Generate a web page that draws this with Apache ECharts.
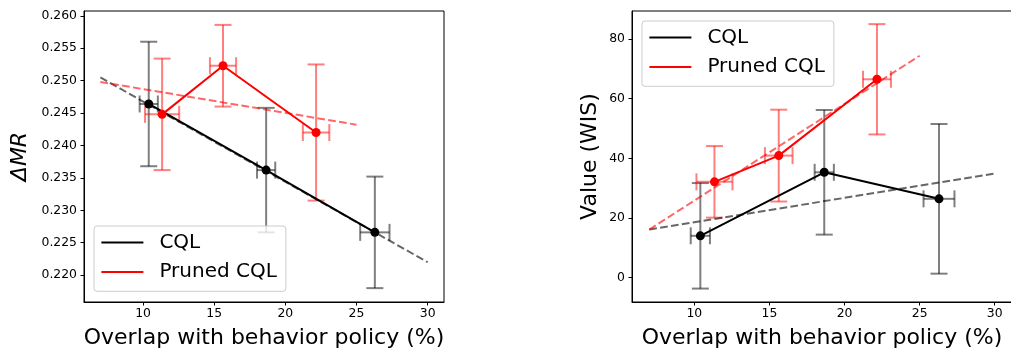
<!DOCTYPE html>
<html>
<head>
<meta charset="utf-8">
<script src="https://cdn.jsdelivr.net/npm/echarts@6/dist/echarts.min.js"></script>
<style>
html,body{margin:0;padding:0;background:#fff;}
#chart{width:1011px;height:350px;}
</style>
</head>
<body>
<div id="chart"></div>
<script>
// ---- data ----
const seriesNames = ['CQL', 'Pruned CQL'];
const cqlX = [10.40, 18.65, 26.29];
const cqlXErr = [0.64, 0.64, 1.03];
const prunedX = [11.34, 15.62, 22.16];
const prunedXErr = [1.2, 0.92, 0.93];

const mrCql = [0.2464, 0.2362, 0.2266];
const mrCqlErr = [0.0096, 0.0096, 0.0086];
const mrPruned = [0.2448, 0.2523, 0.2420];
const mrPrunedErr = [0.0086, 0.0063, 0.0105];

const wisCql = [14.0, 35.3, 26.4];
const wisCqlErr = [17.7, 20.9, 25.1];
const wisPruned = [32.1, 40.9, 66.5];
const wisPrunedErr = [12.0, 15.4, 18.5];

const cqlFitX = [7, 30];
const prunedFitX = [7, 25];
const mrCqlFit = [0.2505, 0.2220];
const mrPrunedFit = [0.2498, 0.2432];
const wisCqlFit = [16.1, 34.9];
const wisPrunedFit = [16.1, 74.4];

const xTicks = [10, 15, 20, 25, 30];
const mrTicks = [0.220, 0.225, 0.230, 0.235, 0.240, 0.245, 0.250, 0.255, 0.260];
const wisTicks = [0, 20, 40, 60, 80];

const xLabel = 'Overlap with behavior policy (%)';
const mrLabel = 'ΔMR';
const wisLabel = 'Value (WIS)';

// ---- helpers ----
const FONT = 'DejaVu Sans';
const zip = (a, b) => a.map((v, i) => [v, b[i]]);
const errData = (xs, xe, ys, ye) => xs.map((x, i) => [x, ys[i], xe[i], ye[i]]);
const CAP = 8.5;

function errRender(color) {
  return function (params, api) {
    const x = api.value(0), y = api.value(1), xe = api.value(2), ye = api.value(3);
    const t = api.coord([x, y + ye]);
    const b = api.coord([x, y - ye]);
    const l = api.coord([x - xe, y]);
    const r = api.coord([x + xe, y]);
    const st = { stroke: color, lineWidth: 2, fill: null };
    const ln = (x1, y1, x2, y2) => ({ type: 'line', shape: { x1, y1, x2, y2 }, style: st });
    return {
      type: 'group',
      children: [
        ln(t[0], t[1], b[0], b[1]),
        ln(t[0] - CAP, t[1], t[0] + CAP, t[1]),
        ln(b[0] - CAP, b[1], b[0] + CAP, b[1]),
        ln(l[0], l[1], r[0], r[1]),
        ln(l[0], l[1] - CAP, l[0], l[1] + CAP),
        ln(r[0], r[1] - CAP, r[0], r[1] + CAP)
      ]
    };
  };
}

function xAxisCfg(gi) {
  return {
    type: 'value', gridIndex: gi, min: 5.85, max: 31.15,
    name: xLabel, nameLocation: 'middle', nameGap: 25,
    nameTextStyle: { fontFamily: FONT, fontSize: 22, color: '#000' },
    axisLine: { show: true, onZero: false, lineStyle: { color: '#000', width: 1 } },
    axisTick: { show: true, inside: false, length: 3.5, lineStyle: { color: '#000', width: 1 }, customValues: xTicks },
    axisLabel: { fontFamily: FONT, fontSize: 12.4, color: '#000', margin: 6, customValues: xTicks },
    splitLine: { show: false }
  };
}

function yAxisCfg(gi, min, max, ticks, name, gap, fmt, italic) {
  return {
    type: 'value', gridIndex: gi, min: min, max: max,
    name: name, nameLocation: 'middle', nameGap: gap, nameRotate: 90,
    nameTextStyle: { fontFamily: FONT, fontSize: 22, color: '#000', fontStyle: italic ? 'italic' : 'normal' },
    axisLine: { show: true, onZero: false, lineStyle: { color: '#000', width: 1 } },
    axisTick: { show: true, inside: false, length: 3.5, lineStyle: { color: '#000', width: 1 }, customValues: ticks },
    axisLabel: { fontFamily: FONT, fontSize: 12.4, color: '#000', margin: 7, customValues: ticks, formatter: fmt },
    splitLine: { show: false }
  };
}

function legendCfg(left, top) {
  return {
    left: left, top: top, orient: 'vertical',
    data: seriesNames,
    icon: 'rect', itemWidth: 42, itemHeight: 2, itemGap: 7.4,
    padding: [5.6, 9, 8.3, 7.4],
    backgroundColor: 'rgba(255,255,255,0.8)',
    borderColor: '#cccccc', borderWidth: 1, borderRadius: 3,
    textStyle: { fontFamily: FONT, fontSize: 20, color: '#000', lineHeight: 22, padding: [0, 0, 0, 11] },
    selectedMode: false
  };
}

function panelSeries(gi, cqlY, cqlE, prY, prE, cqlFit, prFit) {
  return [
    { type: 'custom', xAxisIndex: gi, yAxisIndex: gi, z: 1, renderItem: errRender('rgba(0,0,0,0.5)'),
      data: errData(cqlX, cqlXErr, cqlY, cqlE), encode: { x: 0, y: 1 }, silent: true },
    { type: 'custom', xAxisIndex: gi, yAxisIndex: gi, z: 1, renderItem: errRender('rgba(255,0,0,0.5)'),
      data: errData(prunedX, prunedXErr, prY, prE), encode: { x: 0, y: 1 }, silent: true },
    { type: 'line', xAxisIndex: gi, yAxisIndex: gi, z: 2, showSymbol: false, silent: true,
      data: zip(cqlFitX, cqlFit), lineStyle: { color: 'rgba(0,0,0,0.6)', width: 2, type: [7.7, 3.3] } },
    { type: 'line', xAxisIndex: gi, yAxisIndex: gi, z: 2, showSymbol: false, silent: true,
      data: zip(prunedFitX, prFit), lineStyle: { color: 'rgba(255,0,0,0.6)', width: 2, type: [7.7, 3.3] } },
    { name: 'CQL', type: 'line', xAxisIndex: gi, yAxisIndex: gi, z: 3, color: '#000000',
      data: zip(cqlX, cqlY), symbol: 'circle', symbolSize: 9, showSymbol: true,
      lineStyle: { color: '#000000', width: 2 }, itemStyle: { color: '#000000' } },
    { name: 'Pruned CQL', type: 'line', xAxisIndex: gi, yAxisIndex: gi, z: 3, color: '#ff0000',
      data: zip(prunedX, prY), symbol: 'circle', symbolSize: 9, showSymbol: true,
      lineStyle: { color: '#ff0000', width: 2 }, itemStyle: { color: '#ff0000' } }
  ];
}

const chart = echarts.init(document.getElementById('chart'), null, { renderer: 'canvas' });
chart.setOption({
  animation: false,
  backgroundColor: '#ffffff',
  grid: [
    { left: 84, top: 11, width: 360, height: 291, outerBoundsMode: 'none', containLabel: false,
      show: true, borderColor: '#000', borderWidth: 1, backgroundColor: 'transparent' },
    { left: 632, top: 11, width: 380, height: 291, outerBoundsMode: 'none', containLabel: false,
      show: true, borderColor: '#000', borderWidth: 1, backgroundColor: 'transparent' }
  ],
  legend: [legendCfg(94, 226), legendCfg(642, 21)],
  xAxis: [xAxisCfg(0), xAxisCfg(1)],
  yAxis: [
    yAxisCfg(0, 0.21586, 0.26074, mrTicks, mrLabel, 53, v => v.toFixed(3), true),
    yAxisCfg(1, -8.2, 89.4, wisTicks, wisLabel, 31, v => String(v), false)
  ],
  series: [].concat(
    panelSeries(0, mrCql, mrCqlErr, mrPruned, mrPrunedErr, mrCqlFit, mrPrunedFit),
    panelSeries(1, wisCql, wisCqlErr, wisPruned, wisPrunedErr, wisCqlFit, wisPrunedFit)
  )
});
</script>
</body>
</html>
